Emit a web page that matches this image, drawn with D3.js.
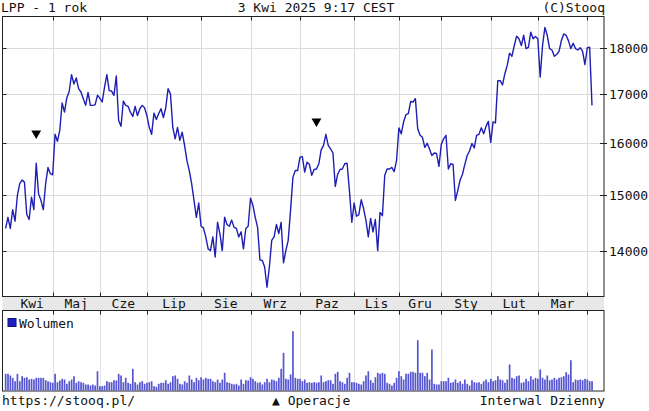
<!DOCTYPE html>
<html lang="pl">
<head>
<meta charset="UTF-8">
<title>LPP - 1 rok</title>
<script src="https://d3js.org/d3.v7.min.js"></script>
<style>
    body { margin: 0; background: #fff; }
    text { font-family: "DejaVu Sans Mono", monospace; font-size: 13px; fill: #111; }
</style>
</head>
<body>
<script>
    // sesje GPW: dni robocze bez swiat
    const holidays = ["2024-05-01", "2024-05-03", "2024-05-30", "2024-08-15", "2024-11-01", "2024-11-11",
        "2024-12-24", "2024-12-25", "2024-12-26", "2024-12-31", "2025-01-01", "2025-01-06"];
    const monthLabels = ["Sty", "Lut", "Mar", "Kwi", "Maj", "Cze", "Lip", "Sie", "Wrz", "Paz", "Lis", "Gru"];
    const yTicks = [14000, 15000, 16000, 17000, 18000];

    // kursy zamkniecia
    const closes = [
        14400, 14600, 14400, 14740, 14530, 15000, 15220, 15290, 15250, 14650,
        14560, 14970, 14740, 15610, 15030, 14910, 14740, 15220, 15530, 15410,
        15390, 16180, 16040, 16260, 16820, 16630, 16930, 17060, 17420, 17220,
        17350, 17120, 17050, 16910, 16770, 17040, 16770, 16770, 16780, 16980,
        16920, 16840, 17150, 17420, 17080, 17070, 16980, 17390, 16460, 16340,
        16860, 16770, 16750, 16630, 16540, 16750, 16560, 16700, 16770, 16720,
        16560, 16320, 16180, 16610, 16480, 16600, 16700, 16520, 16720, 17120,
        17010, 16320, 16090, 16320, 16060, 16220, 15960, 15660, 15470, 15220,
        14910, 14600, 14860, 14440, 14410, 14250, 14040, 14010, 14250, 13900,
        14510, 14310, 14010, 14600, 14470, 14440, 14550, 14420, 14400, 14250,
        14340, 14040, 14400, 14440, 14950, 14820, 14600, 14420, 13850, 13840,
        13730, 13390, 13730, 14190, 14250, 14470, 14310, 14510, 13800, 14010,
        14190, 14730, 15340, 15470, 15470, 15730, 15740, 15440, 15630, 15590,
        15380, 15490, 15500, 15600, 15870, 15960, 16180, 15960, 15890, 15810,
        15170, 15400, 15490, 15500, 15600, 15610, 15090, 14510, 14860, 14620,
        14650, 14920, 14760, 14550, 14250, 14580, 14340, 14560, 14010, 14690,
        14630, 15380, 15500, 15500, 15530, 15450, 15660, 16310, 16190, 16430,
        16580, 16600, 16850, 16840, 16910, 16290, 16160, 16120, 15920, 16000,
        15890, 15760, 15810, 15800, 15550, 15980, 16090, 16160, 15500, 15600,
        15590, 14910, 15090, 15290, 15400, 15590, 15760, 15850, 16000, 15910,
        16160, 16180, 16310, 16190, 16340, 16440, 16020, 16430, 16410, 17290,
        17290, 17200, 17440, 17620, 17890, 17820, 18060, 18270, 18210, 18060,
        18290, 17990, 18020, 18360, 18210, 18260, 18210, 17370, 18060, 18470,
        18290, 17990, 17960, 17820, 17860, 17930, 18170, 18320, 18290, 18170,
        17990, 18110, 17990, 17960, 18010, 17930, 17640, 18010, 18020, 16770
    ];

    // wolumen (szt.)
    const volumes = [
        8350, 8350, 7500, 6350, 4650, 8350, 4650, 7150, 6350, 6650,
        5500, 5850, 5500, 6350, 6350, 6350, 6350, 5150, 4650, 4150,
        3850, 8350, 4150, 5000, 5850, 5500, 3350, 4650, 5500, 7150,
        3850, 4650, 4150, 3850, 3000, 3000, 2500, 3000, 2500, 9650,
        2150, 2150, 2500, 4650, 4150, 4150, 5150, 5000, 8350, 7500,
        4150, 6350, 3850, 3350, 10850, 4150, 3000, 4150, 4650, 3350,
        3850, 4150, 4650, 2150, 1850, 3350, 3850, 3850, 5150, 3350,
        4150, 7150, 7500, 5850, 3350, 3000, 4650, 3850, 7500, 5500,
        4150, 6350, 5150, 6650, 5500, 6350, 5850, 5850, 4650, 4150,
        5500, 3850, 5500, 8850, 4150, 3850, 3350, 3000, 3350, 2500,
        5500, 3350, 5150, 5000, 6650, 5850, 4650, 3850, 4150, 3000,
        4150, 5850, 4150, 5500, 5150, 4650, 6350, 10850, 18850, 5850,
        5500, 8000, 29650, 6350, 5850, 5850, 4650, 5500, 3850, 4150,
        3850, 4150, 3850, 4150, 7500, 4150, 4650, 5150, 5150, 3350,
        8350, 9350, 4650, 4150, 3350, 6350, 8850, 4150, 4150, 3850,
        3350, 3000, 4650, 7500, 9650, 5150, 3850, 6650, 8850, 8350,
        8850, 8350, 3850, 3350, 2500, 3850, 6350, 9650, 7150, 5500,
        8350, 8350, 9350, 9350, 8850, 25150, 8850, 8850, 7150, 8850,
        5500, 20500, 3350, 3000, 3000, 4650, 4650, 4650, 6350, 3850,
        4150, 5500, 3850, 4650, 3350, 5500, 3350, 2500, 5150, 4150,
        3850, 4150, 3350, 4650, 5500, 4150, 5850, 4650, 5150, 7150,
        5500, 5150, 3850, 5500, 13000, 6350, 5850, 7150, 7500, 3850,
        4150, 5850, 4650, 7150, 5500, 6350, 5850, 10500, 6350, 5500,
        7500, 5150, 5500, 6350, 5500, 6350, 6650, 7150, 9150, 8000,
        15150, 4150, 5500, 5150, 5500, 5150, 5850, 5500, 4650, 4650
    ];

    // operacje (dywidenda itp.)
    const events = ["2024-04-22", "2024-10-10"];
    const eventLevels = [16200, 16440];

    const width = 649, height = 411;
    const L = 2.5, R = 604, T = 16.5, B = 296.5;   // panel kursu
    const bandB = 310.5;                          // pasek miesiecy
    const VB = 391;                               // dol panelu wolumenu

    const parse = d3.utcParse("%Y-%m-%d");
    const fmt = d3.utcFormat("%Y-%m-%d");
    const hol = new Set(holidays);
    const dates = d3.utcDays(parse("2024-04-03"), parse("2025-04-04"))
        .filter(d => d.getUTCDay() % 6 !== 0 && !hol.has(fmt(d)));
    const n = Math.min(dates.length, closes.length);

    const x = d3.scaleLinear().domain([0, n - 1]).range([5.6, 592]);
    const y = d3.scaleLog().domain([13237, 18720]).range([B, T]);
    const yv = d3.scaleLinear().domain([0, 40000]).range([VB - 0.5, bandB]);

    const svg = d3.select("body").append("svg")
        .attr("width", width)
        .attr("height", height);

    // poczatki miesiecy
    const starts = [];
    for (let i = 0; i < n; i++) {
        if (i === 0 || dates[i].getUTCMonth() !== dates[i - 1].getUTCMonth()) starts.push(i);
    }
    const grid = starts.filter(i => i > 0);

    // siatka panelu kursu
    svg.append("g").selectAll("line")
        .data(yTicks).enter().append("line")
        .attr("x1", L).attr("x2", R)
        .attr("y1", d => Math.round(y(d)) + 0.5).attr("y2", d => Math.round(y(d)) + 0.5)
        .attr("stroke", "#dadada");
    svg.append("g").selectAll("line")
        .data(grid).enter().append("line")
        .attr("x1", d => Math.round(x(d)) + 0.5).attr("x2", d => Math.round(x(d)) + 0.5)
        .attr("y1", T).attr("y2", B)
        .attr("stroke", "#dadada");
    // siatka panelu wolumenu
    svg.append("g").selectAll("line")
        .data(grid).enter().append("line")
        .attr("x1", d => Math.round(x(d)) + 0.5).attr("x2", d => Math.round(x(d)) + 0.5)
        .attr("y1", bandB).attr("y2", VB)
        .attr("stroke", "#e2e2e2");

    // pasek miesiecy
    svg.append("rect")
        .attr("x", L).attr("y", B).attr("width", R - L).attr("height", bandB - B)
        .attr("fill", "#e8e8e8");

    starts.forEach((s, k) => {
        const e = k + 1 < starts.length ? starts[k + 1] : n - 1;
        if (x(e) - x(s) < 30) return;
        svg.append("text")
            .attr("x", (x(s) + x(e)) / 2 + (s === 0 ? 3 : 0))
            .attr("y", 307.5)
            .attr("text-anchor", "middle")
            .text(monthLabels[dates[s].getUTCMonth()]);
    });

    // ramki
    svg.append("rect")
        .attr("x", L).attr("y", T).attr("width", R - L).attr("height", B - T)
        .attr("fill", "none").attr("stroke", "#222");
    svg.append("rect")
        .attr("x", L).attr("y", bandB).attr("width", R - L).attr("height", VB - bandB)
        .attr("fill", "none").attr("stroke", "#222");

    // znaczniki osi
    const ticks = svg.append("g").attr("stroke", "#222");
    grid.forEach(i => {
        const gx = Math.round(x(i)) + 0.5;
        ticks.append("line").attr("x1", gx).attr("x2", gx).attr("y1", T).attr("y2", T + 4);
        ticks.append("line").attr("x1", gx).attr("x2", gx).attr("y1", B - 4).attr("y2", B);
        ticks.append("line").attr("x1", gx).attr("x2", gx).attr("y1", bandB).attr("y2", bandB + 4);
    });
    yTicks.forEach(t => {
        const gy = Math.round(y(t)) + 0.5;
        ticks.append("line").attr("x1", L).attr("x2", L + 4).attr("y1", gy).attr("y2", gy);
        ticks.append("line").attr("x1", R - 4).attr("x2", R + 3).attr("y1", gy).attr("y2", gy);
    });

    // opisy osi Y
    svg.append("g").selectAll("text")
        .data(yTicks).enter().append("text")
        .attr("x", 609)
        .attr("y", d => y(d))
        .attr("dy", "0.36em")
        .text(d => d);

    // wolumen
    svg.append("g").selectAll("rect")
        .data(volumes.slice(0, n)).enter().append("rect")
        .attr("x", (d, i) => x(i) - 0.8)
        .attr("width", 1.7)
        .attr("y", d => yv(d))
        .attr("height", d => yv(0) - yv(d))
        .attr("fill", "#5656d2");

    // linia kursu
    const line = d3.line()
        .x((d, i) => x(i))
        .y(d => y(d));
    svg.append("path")
        .datum(closes.slice(0, n))
        .attr("d", line)
        .attr("fill", "none")
        .attr("stroke", "#1e1eb4")
        .attr("stroke-width", 1.4)
        .attr("stroke-linejoin", "round");

    // operacje
    const idx = events.map(e => dates.findIndex(d => fmt(d) === e));
    svg.append("g").selectAll("path")
        .data(idx).enter().append("path")
        .attr("d", d3.symbol(d3.symbolTriangle, 42))
        .attr("transform", (d, k) => `translate(${x(d)},${y(eventLevels[k])}) rotate(180)`)
        .attr("fill", "#000");

    // legenda wolumenu
    svg.append("rect")
        .attr("x", 8).attr("y", 318.5).attr("width", 8).attr("height", 8)
        .attr("fill", "#2020c0").attr("stroke", "#101080");
    svg.append("text").attr("x", 19).attr("y", 327.5).text("Wolumen");

    // naglowek
    svg.append("text").attr("x", 1).attr("y", 12).text("LPP - 1 rok");
    svg.append("text").attr("x", 316).attr("y", 12).attr("text-anchor", "middle").text("3 Kwi 2025 9:17 CEST");
    svg.append("text").attr("x", 605).attr("y", 12).attr("text-anchor", "end").text("(C)Stooq");

    // stopka
    svg.append("text").attr("x", 2).attr("y", 405).text("https://stooq.pl/");
    svg.append("text").attr("x", 272).attr("y", 405).text("▲ Operacje");
    svg.append("text").attr("x", 605).attr("y", 405).attr("text-anchor", "end").text("Interwal Dzienny");
</script>
</body>
</html>
